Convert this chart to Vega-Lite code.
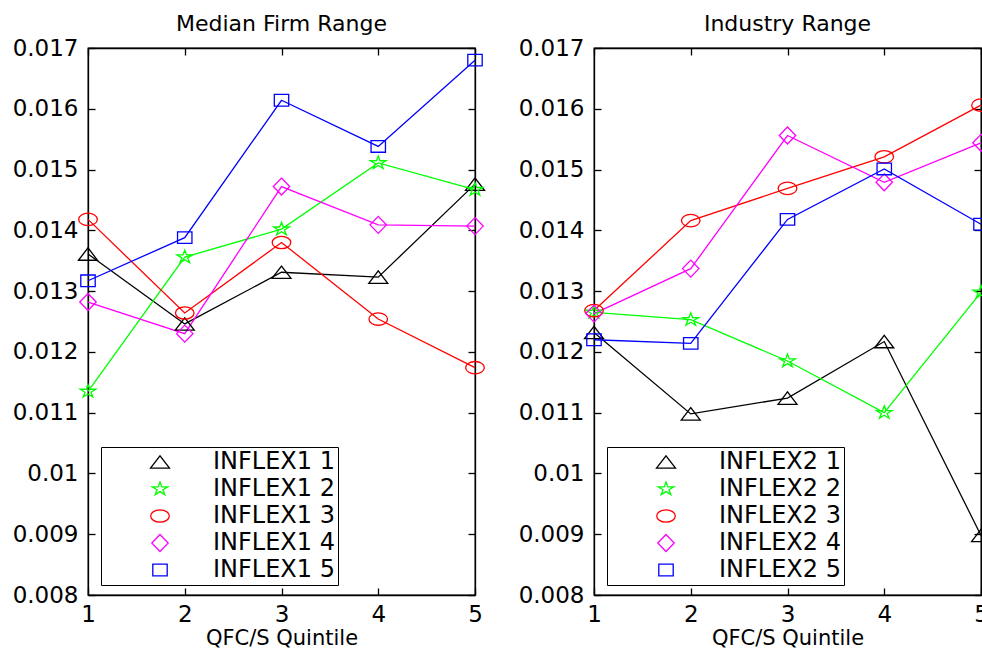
{
  "$schema": "https://vega.github.io/schema/vega-lite/v6.json",
  "padding": {"left": 11, "top": 12, "right": 0, "bottom": 0},
  "spacing": 29,
  "config": {
    "font": "DejaVu Sans",
    "view": {"stroke": "black", "strokeWidth": 1.3},
    "axis": {
      "grid": false,
      "domainColor": "black",
      "domainWidth": 1.3,
      "tickColor": "black",
      "tickWidth": 1.3,
      "tickSize": -7,
      "labelColor": "black",
      "labelFontSize": 23,
      "labelFont": "DejaVu Sans",
      "labelPadding": 17,
      "labelFlush": false,
      "labelOverlap": false,
      "titleColor": "black",
      "titleFontSize": 21,
      "titleFontWeight": "normal",
      "titleFont": "DejaVu Sans"
    },
    "title": {"fontSize": 22, "fontWeight": "normal", "color": "black", "font": "DejaVu Sans", "anchor": "middle", "frame": "group", "offset": 1},
    "legend": {
      "orient": "none",
      "legendX": 13,
      "legendY": 399,
      "strokeColor": "black",
      "fillColor": "white",
      "padding": 3,
      "labelFontSize": 24,
      "labelFont": "DejaVu Sans",
      "labelColor": "black",
      "symbolSize": 400,
      "symbolStrokeWidth": 1.3,
      "symbolOffset": 44,
      "labelOffset": 41,
      "rowPadding": 3
    }
  },
  "datasets": {
    "firm": [
      {"q": 1, "series": "INFLEX1 1", "v": 0.01361},
      {"q": 2, "series": "INFLEX1 1", "v": 0.01246},
      {"q": 3, "series": "INFLEX1 1", "v": 0.01331},
      {"q": 4, "series": "INFLEX1 1", "v": 0.01323},
      {"q": 5, "series": "INFLEX1 1", "v": 0.01476},
      {"q": 1, "series": "INFLEX1 2", "v": 0.01135},
      {"q": 2, "series": "INFLEX1 2", "v": 0.01356},
      {"q": 3, "series": "INFLEX1 2", "v": 0.01402},
      {"q": 4, "series": "INFLEX1 2", "v": 0.01511},
      {"q": 5, "series": "INFLEX1 2", "v": 0.01467},
      {"q": 1, "series": "INFLEX1 3", "v": 0.01418},
      {"q": 2, "series": "INFLEX1 3", "v": 0.01264},
      {"q": 3, "series": "INFLEX1 3", "v": 0.01380},
      {"q": 4, "series": "INFLEX1 3", "v": 0.01254},
      {"q": 5, "series": "INFLEX1 3", "v": 0.01174},
      {"q": 1, "series": "INFLEX1 4", "v": 0.01282},
      {"q": 2, "series": "INFLEX1 4", "v": 0.01230},
      {"q": 3, "series": "INFLEX1 4", "v": 0.01472},
      {"q": 4, "series": "INFLEX1 4", "v": 0.01409},
      {"q": 5, "series": "INFLEX1 4", "v": 0.01407},
      {"q": 1, "series": "INFLEX1 5", "v": 0.01317},
      {"q": 2, "series": "INFLEX1 5", "v": 0.01388},
      {"q": 3, "series": "INFLEX1 5", "v": 0.01614},
      {"q": 4, "series": "INFLEX1 5", "v": 0.01538},
      {"q": 5, "series": "INFLEX1 5", "v": 0.01680}
    ],
    "industry": [
      {"q": 1, "series": "INFLEX2 1", "v": 0.01232},
      {"q": 2, "series": "INFLEX2 1", "v": 0.01098},
      {"q": 3, "series": "INFLEX2 1", "v": 0.01124},
      {"q": 4, "series": "INFLEX2 1", "v": 0.01217},
      {"q": 5, "series": "INFLEX2 1", "v": 0.00898},
      {"q": 1, "series": "INFLEX2 2", "v": 0.01265},
      {"q": 2, "series": "INFLEX2 2", "v": 0.01253},
      {"q": 3, "series": "INFLEX2 2", "v": 0.01185},
      {"q": 4, "series": "INFLEX2 2", "v": 0.01100},
      {"q": 5, "series": "INFLEX2 2", "v": 0.01298},
      {"q": 1, "series": "INFLEX2 3", "v": 0.01268},
      {"q": 2, "series": "INFLEX2 3", "v": 0.01416},
      {"q": 3, "series": "INFLEX2 3", "v": 0.01469},
      {"q": 4, "series": "INFLEX2 3", "v": 0.01521},
      {"q": 5, "series": "INFLEX2 3", "v": 0.01606},
      {"q": 1, "series": "INFLEX2 4", "v": 0.01263},
      {"q": 2, "series": "INFLEX2 4", "v": 0.01337},
      {"q": 3, "series": "INFLEX2 4", "v": 0.01556},
      {"q": 4, "series": "INFLEX2 4", "v": 0.01479},
      {"q": 5, "series": "INFLEX2 4", "v": 0.01544},
      {"q": 1, "series": "INFLEX2 5", "v": 0.01220},
      {"q": 2, "series": "INFLEX2 5", "v": 0.01214},
      {"q": 3, "series": "INFLEX2 5", "v": 0.01418},
      {"q": 4, "series": "INFLEX2 5", "v": 0.01501},
      {"q": 5, "series": "INFLEX2 5", "v": 0.01410}
    ]
  },
  "hconcat": [
    {
      "width": 387,
      "height": 547,
      "title": "Median Firm Range",
      "data": {"name": "firm"},
      "layer": [
        {
          "mark": {"type": "line", "strokeWidth": 1.3},
          "encoding": {
            "x": {"field": "q", "type": "quantitative", "scale": {"domain": [1, 5], "nice": false, "zero": false},
                  "axis": {"orient": "bottom", "values": [1, 2, 3, 4, 5], "format": "d", "title": "QFC/S Quintile", "titlePadding": 1, "labelPadding": 15}},
            "y": {"field": "v", "type": "quantitative", "scale": {"domain": [0.008, 0.017], "nice": false, "zero": false},
                  "axis": {"orient": "left", "values": [0.008, 0.009, 0.01, 0.011, 0.012, 0.013, 0.014, 0.015, 0.016, 0.017], "format": "~g", "title": null}},
            "color": {"field": "series", "type": "nominal", "legend": null,
                      "scale": {"domain": ["INFLEX1 1", "INFLEX1 2", "INFLEX1 3", "INFLEX1 4", "INFLEX1 5"], "range": ["#000000", "#00ff00", "#ff0000", "#ff00ff", "#0000ff"]}}
          }
        },
        {
          "mark": {"type": "point", "filled": false, "size": 400, "strokeWidth": 1.3, "opacity": 1},
          "encoding": {
            "x": {"field": "q", "type": "quantitative", "scale": {"domain": [1, 5], "nice": false, "zero": false},
                  "axis": {"orient": "top", "values": [1, 2, 3, 4, 5], "labels": false, "title": null}},
            "y": {"field": "v", "type": "quantitative", "scale": {"domain": [0.008, 0.017], "nice": false, "zero": false},
                  "axis": {"orient": "right", "values": [0.008, 0.009, 0.01, 0.011, 0.012, 0.013, 0.014, 0.015, 0.016, 0.017], "labels": false, "title": null}},
            "color": {"field": "series", "type": "nominal", "legend": {"title": null},
                      "scale": {"domain": ["INFLEX1 1", "INFLEX1 2", "INFLEX1 3", "INFLEX1 4", "INFLEX1 5"], "range": ["#000000", "#00ff00", "#ff0000", "#ff00ff", "#0000ff"]}},
            "shape": {"field": "series", "type": "nominal", "legend": {"title": null},
                      "scale": {"domain": ["INFLEX1 1", "INFLEX1 2", "INFLEX1 3", "INFLEX1 4", "INFLEX1 5"],
                                "range": ["M-0.95,0.62L0,-0.62L0.95,0.62Z", "M0,-0.69L0.183,-0.212L0.78,-0.213L0.296,0.081L0.482,0.558L0,0.262L-0.482,0.558L-0.296,0.081L-0.78,-0.213L-0.183,-0.212Z", "M-0.93,0A0.93,0.62 0 1,0 0.93,0A0.93,0.62 0 1,0 -0.93,0Z", "M0,-0.85L0.82,0L0,0.85L-0.82,0Z", "M-0.72,-0.58L0.72,-0.58L0.72,0.58L-0.72,0.58Z"]}}
          }
        }
      ],
      "resolve": {"axis": {"x": "independent", "y": "independent"}, "legend": {"color": "independent", "shape": "independent"}}
    },
    {
      "width": 387,
      "height": 547,
      "title": "Industry Range",
      "data": {"name": "industry"},
      "layer": [
        {
          "mark": {"type": "line", "strokeWidth": 1.3},
          "encoding": {
            "x": {"field": "q", "type": "quantitative", "scale": {"domain": [1, 5], "nice": false, "zero": false},
                  "axis": {"orient": "bottom", "values": [1, 2, 3, 4, 5], "format": "d", "title": "QFC/S Quintile", "titlePadding": 1, "labelPadding": 15}},
            "y": {"field": "v", "type": "quantitative", "scale": {"domain": [0.008, 0.017], "nice": false, "zero": false},
                  "axis": {"orient": "left", "values": [0.008, 0.009, 0.01, 0.011, 0.012, 0.013, 0.014, 0.015, 0.016, 0.017], "format": "~g", "title": null}},
            "color": {"field": "series", "type": "nominal", "legend": null,
                      "scale": {"domain": ["INFLEX2 1", "INFLEX2 2", "INFLEX2 3", "INFLEX2 4", "INFLEX2 5"], "range": ["#000000", "#00ff00", "#ff0000", "#ff00ff", "#0000ff"]}}
          }
        },
        {
          "mark": {"type": "point", "filled": false, "size": 400, "strokeWidth": 1.3, "opacity": 1},
          "encoding": {
            "x": {"field": "q", "type": "quantitative", "scale": {"domain": [1, 5], "nice": false, "zero": false},
                  "axis": {"orient": "top", "values": [1, 2, 3, 4, 5], "labels": false, "title": null}},
            "y": {"field": "v", "type": "quantitative", "scale": {"domain": [0.008, 0.017], "nice": false, "zero": false},
                  "axis": {"orient": "right", "values": [0.008, 0.009, 0.01, 0.011, 0.012, 0.013, 0.014, 0.015, 0.016, 0.017], "labels": false, "title": null}},
            "color": {"field": "series", "type": "nominal", "legend": {"title": null},
                      "scale": {"domain": ["INFLEX2 1", "INFLEX2 2", "INFLEX2 3", "INFLEX2 4", "INFLEX2 5"], "range": ["#000000", "#00ff00", "#ff0000", "#ff00ff", "#0000ff"]}},
            "shape": {"field": "series", "type": "nominal", "legend": {"title": null},
                      "scale": {"domain": ["INFLEX2 1", "INFLEX2 2", "INFLEX2 3", "INFLEX2 4", "INFLEX2 5"],
                                "range": ["M-0.95,0.62L0,-0.62L0.95,0.62Z", "M0,-0.69L0.183,-0.212L0.78,-0.213L0.296,0.081L0.482,0.558L0,0.262L-0.482,0.558L-0.296,0.081L-0.78,-0.213L-0.183,-0.212Z", "M-0.93,0A0.93,0.62 0 1,0 0.93,0A0.93,0.62 0 1,0 -0.93,0Z", "M0,-0.85L0.82,0L0,0.85L-0.82,0Z", "M-0.72,-0.58L0.72,-0.58L0.72,0.58L-0.72,0.58Z"]}}
          }
        }
      ],
      "resolve": {"axis": {"x": "independent", "y": "independent"}, "legend": {"color": "independent", "shape": "independent"}}
    }
  ],
  "resolve": {"scale": {"color": "independent", "shape": "independent", "x": "independent", "y": "independent"}, "legend": {"color": "independent", "shape": "independent"}}
}
